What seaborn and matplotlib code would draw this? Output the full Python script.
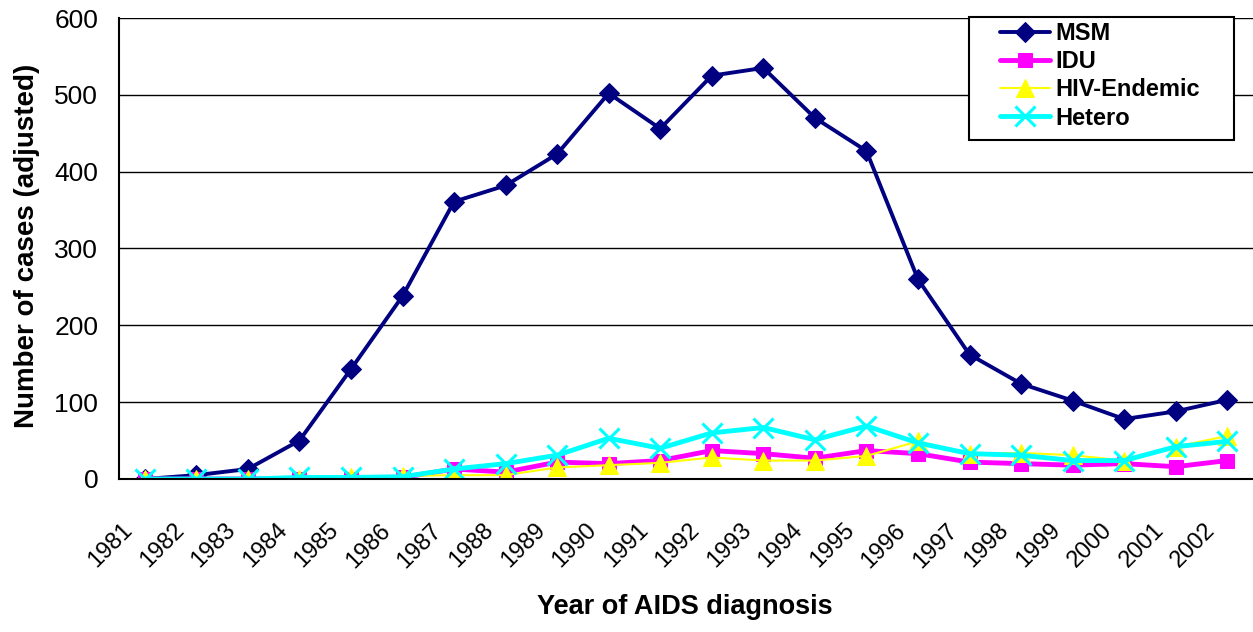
import pandas as pd
import seaborn as sns
import matplotlib.pyplot as plt
from matplotlib.patches import Rectangle

# Dados
anos = [str(a) for a in range(1981, 2003)]
msm = [0, 5, 13, 50, 143, 238, 361, 382, 423, 502, 456, 525, 535, 470, 427, 260, 162, 124, 102, 78, 88, 103]
idu = [0, 0, 0, 0, 0, 2, 13, 9, 22, 20, 24, 37, 33, 27, 37, 33, 22, 20, 18, 20, 16, 24]
hiv_endemic = [0, 0, 0, 0, 3, 4, 5, 5, 15, 18, 21, 28, 24, 24, 30, 49, 33, 34, 31, 24, 42, 56]
hetero = [0, 0, 0, 2, 2, 3, 13, 20, 31, 53, 40, 60, 67, 51, 69, 47, 33, 31, 24, 24, 42, 49]

series = {"MSM": msm, "IDU": idu, "HIV-Endemic": hiv_endemic, "Hetero": hetero}
estilos = {
    "MSM": dict(color="#000080", marker="D", markersize=10, linewidth=2.8, mfc="#000080", mec="#000080"),
    "IDU": dict(color="#FF00FF", marker="s", markersize=10, linewidth=3.5, mfc="#FF00FF", mec="#FF00FF"),
    "HIV-Endemic": dict(color="#FFFF00", marker="^", markersize=13, linewidth=1.5, mfc="#FFFF00", mec="#FFFF00"),
    "Hetero": dict(color="#00FFFF", marker="x", markersize=14, linewidth=3.5, mew=2.2, mec="#00FFFF"),
}

sns.set_style("white")
plt.rcParams["font.family"] = ["Liberation Sans", "DejaVu Sans"]
plt.rcParams["text.color"] = "black"
plt.rcParams["axes.labelcolor"] = "black"
plt.rcParams["xtick.color"] = "black"
plt.rcParams["ytick.color"] = "black"

fig = plt.figure(figsize=(12.53, 6.32), dpi=100)
ax = fig.add_axes([119 / 1253, 1 - 479 / 632, (1253 - 119) / 1253, (479 - 18) / 632])

x = list(range(len(anos)))
for nome, valores in series.items():
    df = pd.DataFrame({"x": x, "y": valores})
    sns.lineplot(data=df, x="x", y="y", ax=ax, label=nome, **estilos[nome])

ax.set_xlim(-0.5, len(anos) - 0.5)
ax.set_ylim(0, 600)
ax.set_yticks(range(0, 601, 100))
ax.yaxis.grid(True, color="black", linewidth=1)
ax.set_axisbelow(True)

# rótulos do eixo x: o fim do texto fica um pouco à esquerda do ponto, como no Excel
ax.set_xticks([i - 0.45 for i in x])
ax.set_xticklabels(anos, rotation=45, ha="right", va="top", rotation_mode="anchor",
                   fontsize=17, family=["Liberation Sans Narrow", "Liberation Sans"])
ax.set_xticks([i - 0.5 for i in range(len(anos) + 1)], minor=True)
ax.tick_params(axis="x", which="major", length=0, pad=29)
ax.tick_params(axis="x", which="minor", length=6, width=1.5, direction="out", color="black")
ax.tick_params(axis="y", length=5, width=1.5, direction="out", color="black", labelsize=19, pad=10)

for s in ["top", "right"]:
    ax.spines[s].set_visible(False)
for s in ["left", "bottom"]:
    ax.spines[s].set_color("black")
    ax.spines[s].set_linewidth(1.5)

ax.set_xlabel("Year of AIDS diagnosis", fontsize=19.5, fontweight="bold")
ax.set_ylabel("Number of cases (adjusted)", fontsize=20, fontweight="bold")
ax.xaxis.set_label_coords(0.499, -0.2495)
ax.yaxis.set_label_coords(-0.0697, 0.505)

# caixa da legenda desenhada à parte
ax.add_patch(Rectangle((969 / 1253, 1 - 140 / 632), (1234 - 969) / 1253, (140 - 17) / 632,
                       transform=fig.transFigure, facecolor="white", edgecolor="black",
                       linewidth=1.5, zorder=5, clip_on=False))
leg = ax.legend(loc="upper left", bbox_to_anchor=(1000 / 1253, 1 - 22 / 632),
                bbox_transform=fig.transFigure, frameon=False,
                prop={"weight": "bold", "size": 17},
                handlelength=2.1, borderpad=0, labelspacing=0.22, handletextpad=0.25,
                borderaxespad=0)
leg.set_zorder(6)

plt.savefig("out.png", dpi=100)
